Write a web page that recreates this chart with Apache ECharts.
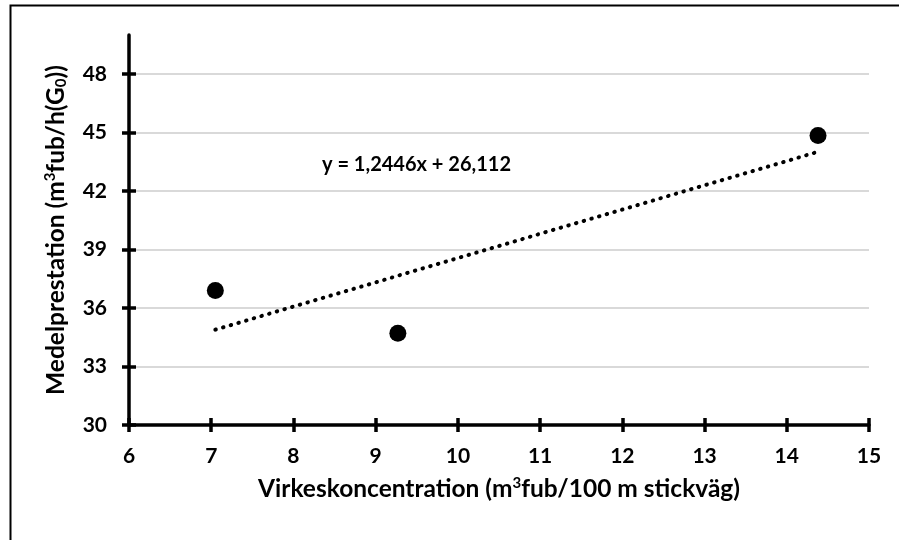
<!DOCTYPE html>
<html><head><meta charset="utf-8">
<script src="https://cdn.jsdelivr.net/npm/echarts@6/dist/echarts.min.js"></script>
<style>html,body{margin:0;padding:0;background:#fff}#c{width:899px;height:540px}</style>
</head><body><div id="c"></div>
<script>
const pointsX = [7.05, 9.27, 14.38];
const pointsY = [36.9, 34.7, 44.85];
const trendX = [7.05, 14.38];
const trendY = [34.89, 44.01];
const xTicks = [6, 7, 8, 9, 10, 11, 12, 13, 14, 15];
const yTicks = [30, 33, 36, 39, 42, 45, 48];
const equation = 'y = 1,2446x + 26,112';

const FONT = 'Lato';
const chart = echarts.init(document.getElementById('c'), null, {renderer: 'canvas'});
const axisLine = {lineStyle: {color: '#000', width: 3.5}};
const lab = {color: '#000', fontFamily: FONT, fontWeight: 'bold', fontSize: 21};
const supStyle = {fontSize: 15, fontFamily: FONT, fontWeight: 'bold', color: '#000', padding: [0, 0, 11, 0]};
const subStyle = {fontSize: 15, fontFamily: FONT, fontWeight: 'bold', color: '#000', padding: [10, 0, 0, 0]};
chart.setOption({
  animation: false,
  backgroundColor: '#fff',
  grid: {left: 129, right: 30, top: 35, bottom: 115},
  xAxis: [{
    type: 'value', min: 6, max: 15, interval: 1,
    axisLine: axisLine,
    axisTick: {show: true, length: 7, lineStyle: {color: '#000', width: 3.5}, customValues: xTicks},
    axisLabel: Object.assign({margin: 21, customValues: xTicks}, lab),
    splitLine: {show: false},
    name: 'Virkeskoncentration (m{sup|3}fub/100 m stickväg)',
    nameLocation: 'middle', nameGap: 51,
    nameTextStyle: {color: '#000', fontFamily: FONT, fontWeight: 'bold', fontSize: 24.5, rich: {sup: supStyle}}
  }, {
    type: 'value', min: 6, max: 15, interval: 1, position: 'bottom',
    axisLine: {show: false},
    axisTick: {show: true, inside: true, length: 7, lineStyle: {color: '#000', width: 3.5}, customValues: xTicks},
    axisLabel: {show: false}, splitLine: {show: false}
  }],
  yAxis: [{
    type: 'value', min: 30, max: 50, interval: 3,
    axisLine: axisLine,
    axisTick: {show: true, length: 7, lineStyle: {color: '#000', width: 3.5}, customValues: yTicks},
    axisLabel: Object.assign({margin: 22, customValues: yTicks}, lab),
    splitLine: {show: true, lineStyle: {color: '#d9d9d9', width: 2}},
    name: 'Medelprestation (m{sup|3}fub/h(G{sub|0}))',
    nameLocation: 'middle', nameGap: 60, nameRotate: 90,
    nameTextStyle: {color: '#000', fontFamily: FONT, fontWeight: 'bold', fontSize: 24.5, rich: {sup: supStyle, sub: subStyle}}
  }, {
    type: 'value', min: 30, max: 50, interval: 3, position: 'left',
    axisLine: {show: false},
    axisTick: {show: true, inside: true, length: 7, lineStyle: {color: '#000', width: 3.5}, customValues: yTicks},
    axisLabel: {show: false}, splitLine: {show: false}
  }],
  graphic: [
    {type: 'rect', left: 8, top: 3, silent: true, z: 100,
     shape: {x: 0, y: 0, width: 900, height: 545},
     style: {fill: 'none', stroke: '#000', lineWidth: 2}},
    {type: 'text', left: 322, top: 155, z: 100,
     style: {text: equation, fill: '#000', font: 'bold 20px ' + FONT}}
  ],
  series: [{
    type: 'line', data: trendX.map((x, i) => [x, trendY[i]]),
    symbol: 'none', z: 2,
    lineStyle: {color: '#000', width: 4, type: [0.5, 7.5], cap: 'round'}
  }, {
    type: 'scatter', data: pointsX.map((x, i) => [x, pointsY[i]]),
    symbol: 'circle', symbolSize: 17, z: 3,
    itemStyle: {color: '#000', opacity: 1}
  }]
});
</script></body></html>
